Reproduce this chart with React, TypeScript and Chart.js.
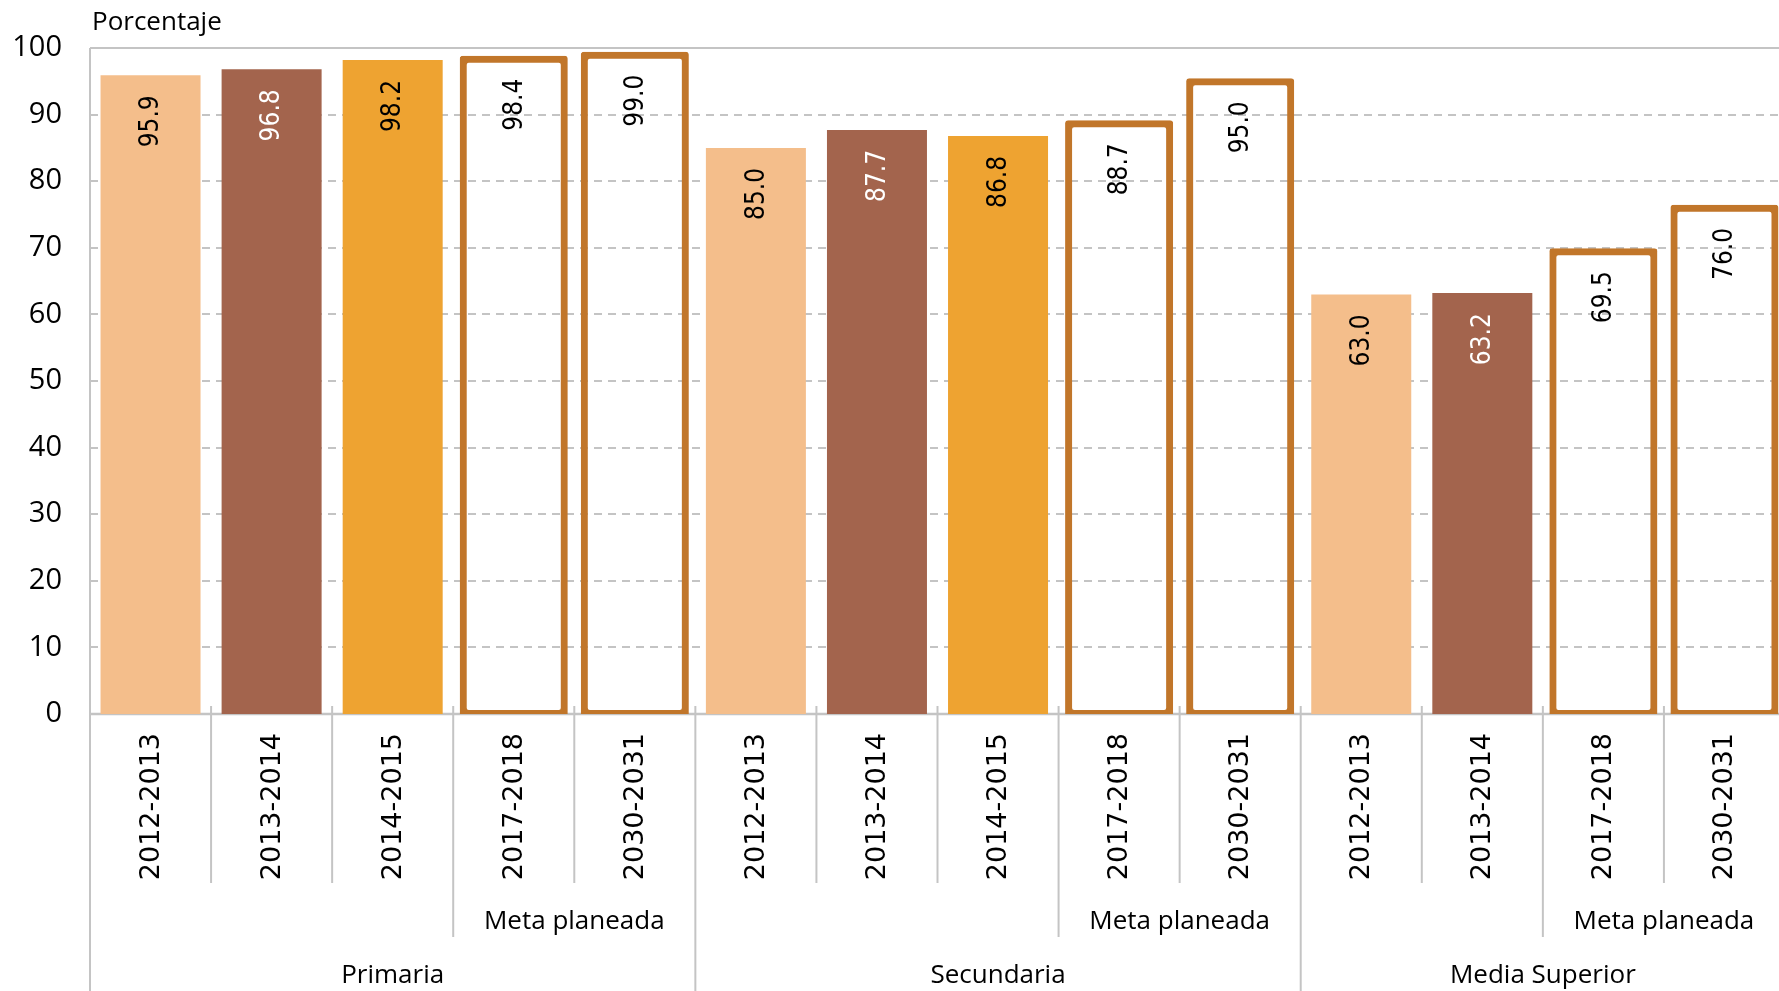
import React, { useEffect, useRef } from 'react';
import { Chart, registerables } from 'chart.js';

Chart.register(...registerables);

// ---- Data ----
const groupNames = ['Primaria', 'Secundaria', 'Media Superior'];
const primariaYears = ['2012-2013', '2013-2014', '2014-2015', '2017-2018', '2030-2031'];
const primariaValues = [95.9, 96.8, 98.2, 98.4, 99.0];
const secundariaYears = ['2012-2013', '2013-2014', '2014-2015', '2017-2018', '2030-2031'];
const secundariaValues = [85.0, 87.7, 86.8, 88.7, 95.0];
const mediaYears = ['2012-2013', '2013-2014', '2017-2018', '2030-2031'];
const mediaValues = [63.0, 63.2, 69.5, 76.0];
const metaYears = ['2017-2018', '2030-2031'];
const metaLabel = 'Meta planeada';
const yAxisTitle = 'Porcentaje';
const yMin = 0;
const yMax = 100;
const yStep = 10;

// ---- Styles ----
const yearColors: Record<string, string> = {
  '2012-2013': '#F4BE8B',
  '2013-2014': '#A3644D',
  '2014-2015': '#EEA331',
};
const outlineColor = '#C1762A';
const lineGray = '#C4C4C4';

export default function App() {
  const ref = useRef<HTMLCanvasElement>(null);

  useEffect(() => {
    document.body.style.margin = '0';
    document.documentElement.style.overflow = 'hidden';

    const groupYears = [primariaYears, secundariaYears, mediaYears];
    const groupValues = [primariaValues, secundariaValues, mediaValues];
    const labels: string[] = [];
    const values: number[] = [];
    const groupStarts: number[] = [];
    groupYears.forEach((ys, g) => {
      groupStarts.push(labels.length);
      ys.forEach((y, i) => {
        labels.push(y);
        values.push(groupValues[g][i]);
      });
    });
    const isMeta = labels.map((l) => metaYears.includes(l));

    const decor = {
      id: 'decor',
      beforeDatasetsDraw(chart: any) {
        const ctx = chart.ctx;
        const { left, top } = chart.chartArea;
        const W = chart.width;
        const H = chart.height;
        const ys = chart.scales.y;
        const xs = chart.scales.x;
        ctx.save();
        // dashed gridlines
        ctx.strokeStyle = lineGray;
        ctx.lineWidth = 2;
        ctx.setLineDash([8, 6]);
        for (let v = yMin + yStep; v < yMax; v += yStep) {
          const y = Math.round(ys.getPixelForValue(v));
          ctx.beginPath();
          ctx.moveTo(left, y);
          ctx.lineTo(W, y);
          ctx.stroke();
        }
        ctx.setLineDash([]);
        // top frame line
        const yTop = ys.getPixelForValue(yMax);
        ctx.beginPath();
        ctx.moveTo(left, yTop);
        ctx.lineTo(W, yTop);
        ctx.stroke();
        // bottom axis
        const y0 = ys.getPixelForValue(yMin);
        ctx.lineWidth = 2.5;
        ctx.beginPath();
        ctx.moveTo(left, y0);
        ctx.lineTo(W, y0);
        ctx.stroke();
        // left axis, down to bottom of canvas
        ctx.lineWidth = 2;
        ctx.beginPath();
        ctx.moveTo(left, top);
        ctx.lineTo(left, H);
        ctx.stroke();
        // separators
        const n = labels.length;
        for (let k = 1; k < n; k++) {
          const x = (xs.getPixelForValue(k - 1) + xs.getPixelForValue(k)) / 2;
          let yEnd = 883;
          if (groupStarts.includes(k)) yEnd = H;
          else if (isMeta[k] && !isMeta[k - 1]) yEnd = 937;
          ctx.beginPath();
          ctx.moveTo(x, y0 - 8);
          ctx.lineTo(x, yEnd);
          ctx.stroke();
        }
        ctx.restore();
      },
      afterDatasetsDraw(chart: any) {
        const ctx = chart.ctx;
        const xs = chart.scales.x;
        const ys = chart.scales.y;
        const { left } = chart.chartArea;
        const y0 = ys.getPixelForValue(yMin);
        ctx.save();
        // value labels
        ctx.font = "26px 'DejaVu Sans Condensed', 'DejaVu Sans'";
        ctx.textAlign = 'right';
        ctx.textBaseline = 'middle';
        labels.forEach((lab, i) => {
          const ds = isMeta[i] ? 1 : 0;
          const el = chart.getDatasetMeta(ds).data[i];
          if (!el) return;
          ctx.save();
          ctx.translate(el.x + 1, el.y + 20);
          ctx.rotate(-Math.PI / 2);
          ctx.fillStyle = lab === '2013-2014' ? '#FFFFFF' : '#000000';
          ctx.fillText(values[i].toFixed(1), 0, 0);
          ctx.restore();
        });
        // category labels
        ctx.font = "27px 'DejaVu Sans'";
        ctx.fillStyle = '#000';
        labels.forEach((lab, i) => {
          const x = xs.getPixelForValue(i);
          ctx.save();
          ctx.translate(x + 1, y0 + 19);
          ctx.rotate(-Math.PI / 2);
          ctx.textAlign = 'right';
          ctx.textBaseline = 'middle';
          ctx.fillText(lab, 0, 0);
          ctx.restore();
        });
        // meta labels and group labels
        ctx.font = "26px 'Open Sans'";
        ctx.textAlign = 'center';
        ctx.textBaseline = 'alphabetic';
        groupStarts.forEach((s, g) => {
          const end = g + 1 < groupStarts.length ? groupStarts[g + 1] - 1 : labels.length - 1;
          const metaIdx: number[] = [];
          for (let i = s; i <= end; i++) if (isMeta[i]) metaIdx.push(i);
          if (metaIdx.length) {
            const a = xs.getPixelForValue(metaIdx[0] - 0.5);
            const b = xs.getPixelForValue(metaIdx[metaIdx.length - 1] + 0.5);
            ctx.fillText(metaLabel, (a + b) / 2, 929);
          }
          const ga = xs.getPixelForValue(s - 0.5);
          const gb = xs.getPixelForValue(end + 0.5);
          ctx.fillText(groupNames[g], (ga + gb) / 2, 983);
        });
        // y axis title
        ctx.textAlign = 'left';
        ctx.fillText(yAxisTitle, left + 2, 30);
        ctx.restore();
      },
    };

    const chart = new Chart(ref.current!, {
      type: 'bar',
      data: {
        labels,
        datasets: [
          {
            label: 'Observado',
            data: values.map((v, i) => (isMeta[i] ? null : v)),
            backgroundColor: labels.map((l) => yearColors[l] || '#ccc'),
            borderWidth: 0,
            barPercentage: 0.826,
            categoryPercentage: 1,
            grouped: false,
          },
          {
            label: metaLabel,
            data: values.map((v, i) => (isMeta[i] ? v : null)),
            backgroundColor: 'rgba(0,0,0,0)',
            borderColor: outlineColor,
            borderWidth: 1,
            inflateAmount: 3,
            borderSkipped: false,
            borderRadius: 3,
            barPercentage: 0.843,
            categoryPercentage: 1,
            grouped: false,
          } as any,
        ],
      },
      options: {
        responsive: false,
        animation: false,
        layout: { padding: { top: 48, left: 0, right: 0, bottom: 0 } },
        plugins: { legend: { display: false }, tooltip: { enabled: false } },
        scales: {
          x: {
            type: 'category',
            offset: true,
            grid: { display: false, drawTicks: false },
            border: { display: false },
            ticks: { display: false },
            afterFit: (s: any) => {
              s.height = 277;
            },
          },
          y: {
            min: yMin,
            max: yMax,
            grid: { display: false, drawTicks: false },
            border: { display: false },
            ticks: {
              stepSize: yStep,
              padding: 28,
              color: '#000',
              font: { family: "'Open Sans'", size: 29 },
            },
            afterFit: (s: any) => {
              s.width = 90;
            },
          },
        },
      } as any,
      plugins: [decor],
    });
    return () => chart.destroy();
  }, []);

  return (
    <div style={{ width: 1779, height: 991, overflow: 'hidden', position: 'relative', background: '#fff' }}>
      <canvas ref={ref} width={1785} height={991} style={{ display: 'block' }} />
    </div>
  );
}
